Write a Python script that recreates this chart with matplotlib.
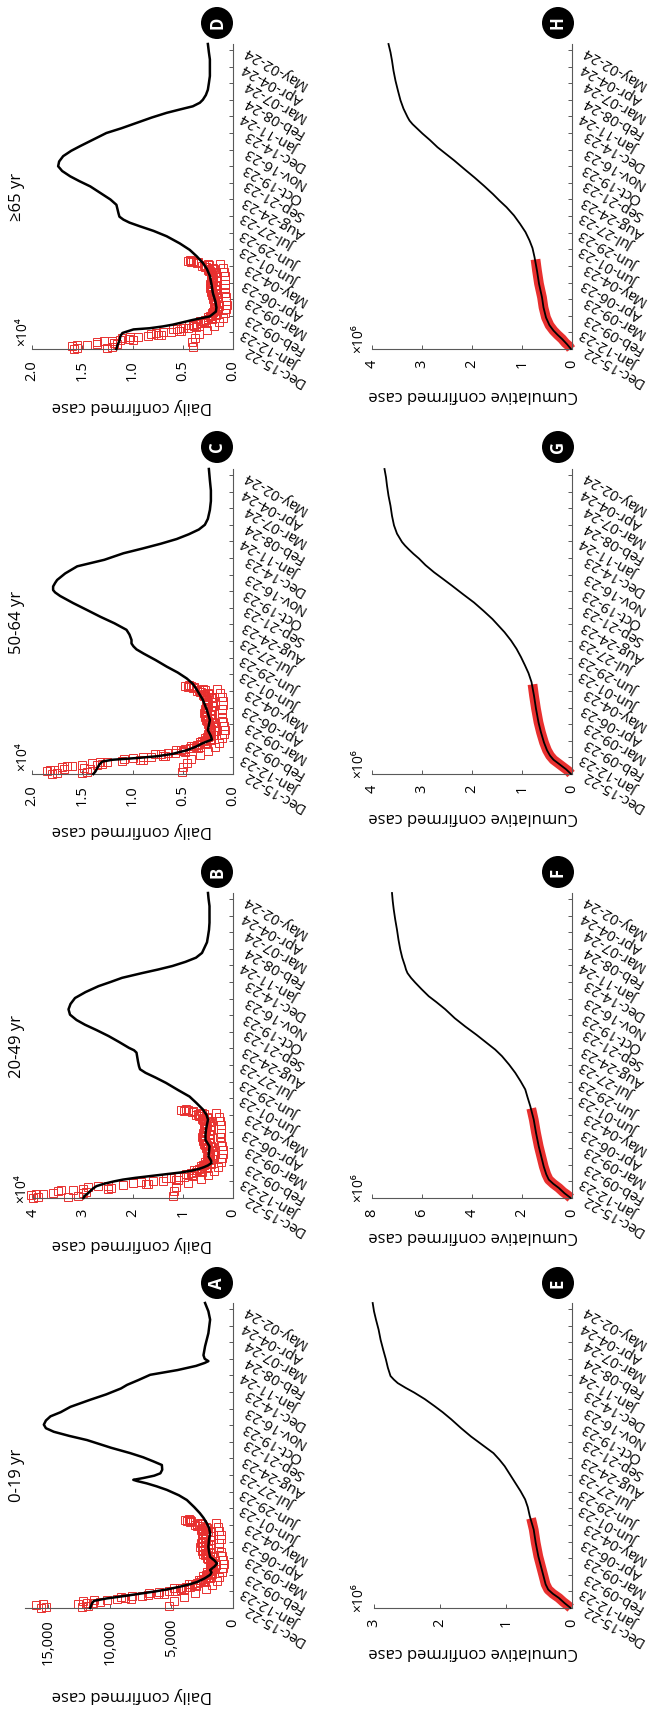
import numpy as np
import pandas as pd
import matplotlib
matplotlib.use('Agg')
import matplotlib.pyplot as plt

plt.rcParams['font.family'] = ['Open Sans', 'DejaVu Sans']

# --- data -------------------------------------------------------------
start = pd.Timestamp('2022-12-15')
date_labels = ['Dec-15-22', 'Jan-12-23', 'Feb-09-23', 'Mar-09-23', 'Apr-06-23',
               'May-04-23', 'Jun-01-23', 'Jun-29-23', 'Jul-27-23', 'Aug-24-23',
               'Sep-21-23', 'Oct-19-23', 'Nov-16-23', 'Dec-14-23', 'Jan-11-24',
               'Feb-08-24', 'Mar-07-24', 'Apr-04-24', 'May-02-24']
date_ticks = [(pd.to_datetime(s, format='%b-%d-%y') - start).days for s in date_labels]
last_day = 514

groups = ['0-19 yr', '20-49 yr', '50-64 yr', '\u226565 yr']

# observed daily cases, one value per day from Dec-15-22
obs_a = [15600, 15200, 12300, 11800, 5200, 16000, 15400,
         12600, 11900, 11400, 10800, 4800, 12200, 11300,
         10200, 9400, 8300, 8800, 4000, 9100, 8200,
         7400, 6900, 5600, 6100, 3100, 6800, 6000,
         5200, 4700, 4000, 4200, 2200, 4800, 4300,
         3800, 3500, 3000, 3100, 1700, 3600, 3300,
         2900, 2700, 2300, 2400, 1300, 2800, 2600,
         2400, 2200, 1900, 2000, 1100, 2400, 2200,
         2100, 2000, 1700, 1700, 900, 2100, 1900,
         1900, 1800, 1500, 1600, 800, 1900, 1800,
         1800, 1700, 1400, 1400, 700, 1700, 1600,
         1900, 1800, 1500, 1500, 800, 2000, 1900,
         2100, 2000, 1700, 1700, 900, 2300, 2100,
         2400, 2200, 1900, 1900, 1000, 2500, 2400,
         2500, 2300, 2000, 2000, 1100, 2700, 2500,
         2500, 2300, 1900, 2000, 1100, 2600, 2500,
         2400, 2200, 1900, 1900, 1000, 2500, 2400,
         2300, 2200, 1800, 1800, 1000, 2500, 2300,
         2400, 2200, 1900, 2000, 1100, 2600, 2500,
         2600, 2500, 2100, 2200, 1200, 2900, 2800,
         3100, 2900, 2500, 2700, 1400, 3500, 3400,
         3700, 3900, 3500, 3600]
obs_b = [40000, 39000, 33000, 31000, 12000, 40500, 39500,
         38000, 36000, 30000, 29500, 11800, 35000, 34500,
         32000, 30000, 25000, 24500, 11500, 29000, 27000,
         25000, 22000, 17500, 17000, 9100, 20000, 18500,
         16000, 14000, 11000, 11500, 6500, 13500, 12500,
         11000, 9800, 8000, 8200, 5000, 9500, 9000,
         8500, 7500, 6200, 6500, 3800, 7800, 7200,
         6800, 6200, 5200, 5400, 3000, 6500, 6000,
         5800, 5400, 4500, 4600, 2500, 5600, 5300,
         5200, 4900, 4100, 4200, 2200, 5200, 5000,
         4900, 4600, 3800, 3900, 2000, 4900, 4700,
         5100, 4800, 4000, 4100, 2100, 5200, 5000,
         5400, 5100, 4300, 4400, 2300, 5600, 5300,
         5800, 5500, 4600, 4700, 2500, 6000, 5800,
         6000, 5700, 4800, 4900, 2600, 6300, 6000,
         5900, 5600, 4700, 4800, 2500, 6100, 5900,
         5700, 5400, 4500, 4600, 2400, 5900, 5700,
         5600, 5300, 4400, 4500, 2400, 5800, 5600,
         5800, 5500, 4600, 4800, 2600, 6100, 5900,
         6300, 6000, 5000, 5200, 2900, 6800, 6600,
         7400, 7000, 5900, 6200, 3400, 8200, 8000,
         9800, 10500, 9000, 9500]
obs_c = [18000, 17500, 15000, 14500, 5100, 18500, 18200,
         17800, 16800, 14200, 14800, 5000, 17000, 16500,
         16000, 15000, 13500, 13000, 4600, 14000, 13200,
         12500, 11000, 9000, 9300, 4200, 10800, 10000,
         9000, 8200, 6800, 7000, 3300, 7800, 7200,
         6500, 5800, 4800, 5000, 2500, 5700, 5200,
         4800, 4300, 3500, 3700, 1800, 4200, 3900,
         3600, 3300, 2700, 2800, 1400, 3300, 3100,
         2900, 2700, 2200, 2300, 1100, 2800, 2600,
         2500, 2400, 1900, 2000, 900, 2500, 2300,
         2300, 2200, 1800, 1800, 800, 2300, 2200,
         2400, 2300, 1800, 1900, 900, 2400, 2300,
         2500, 2400, 1900, 2000, 1000, 2600, 2500,
         2700, 2600, 2100, 2200, 1100, 2800, 2700,
         2800, 2700, 2200, 2300, 1100, 2900, 2800,
         2700, 2600, 2100, 2200, 1100, 2800, 2700,
         2600, 2500, 2000, 2100, 1000, 2700, 2600,
         2600, 2500, 2000, 2100, 1000, 2700, 2600,
         2700, 2600, 2100, 2200, 1100, 2900, 2800,
         3000, 2900, 2400, 2500, 1300, 3300, 3200,
         3600, 3400, 2800, 3000, 1600, 4000, 3900,
         4500, 4800, 4200, 4400]
obs_d = [15800, 15500, 12500, 12000, 4000, 16000, 15500,
         14500, 13500, 11500, 11800, 4100, 13500, 12800,
         12000, 11200, 10000, 10300, 3800, 11000, 10200,
         9500, 8500, 7200, 7500, 3400, 8200, 7700,
         7000, 6200, 5200, 5400, 2600, 6000, 5600,
         5000, 4500, 3700, 3900, 1900, 4400, 4000,
         3700, 3300, 2700, 2900, 1400, 3300, 3000,
         2800, 2500, 2100, 2200, 1000, 2500, 2300,
         2200, 2100, 1700, 1800, 800, 2100, 2000,
         2000, 1900, 1500, 1600, 700, 1900, 1800,
         1900, 1800, 1400, 1500, 600, 1800, 1700,
         1900, 1800, 1500, 1500, 700, 1900, 1800,
         2000, 1900, 1500, 1600, 700, 2000, 1900,
         2100, 2000, 1600, 1700, 800, 2200, 2100,
         2200, 2100, 1700, 1800, 800, 2300, 2200,
         2200, 2100, 1700, 1800, 800, 2300, 2200,
         2100, 2000, 1600, 1700, 800, 2200, 2100,
         2100, 2000, 1600, 1700, 800, 2200, 2100,
         2200, 2100, 1700, 1800, 900, 2400, 2300,
         2500, 2400, 1900, 2000, 1000, 2800, 2700,
         3100, 2900, 2400, 2500, 1300, 3600, 3500,
         4200, 4500, 4000, 4300]

# fitted / projected daily curve (day, value)
fit_a_days = [0, 3, 8, 12, 16, 20, 24, 28, 32, 36, 40, 44, 50, 56, 60, 64, 70, 75, 80, 86,
              95, 103, 115, 126, 135, 143, 152, 160, 170, 182, 190, 199, 205, 210, 214, 216,
              219, 223, 227, 233, 241, 247, 254, 261, 270, 283, 290, 297, 303, 309, 316, 323,
              330, 339, 351, 360, 370, 376, 384, 393, 401, 408, 413, 416, 420, 426, 441, 463,
              486, 500, 514]
fit_a = [11600, 11550, 11450, 11300, 10300, 8900, 7600, 6300, 5200, 4300, 3500, 2900, 2300,
         1850, 1750, 1860, 1500, 1300, 1500, 1860, 1950, 2000, 1950, 1860, 1950, 2130, 2400,
         2700, 3150, 3750, 4400, 5370, 6200, 7000, 7800, 8100, 7300, 6400, 5900, 5750, 5780,
         6460, 7300, 8350, 9900, 11860, 13300, 14560, 15200, 15370, 15200, 14830, 14000, 13210,
         11590, 10300, 9100, 8610, 7700, 6730, 4500, 3000, 2300, 2000, 2300, 2400, 2270, 2000,
         1860, 2000, 2270]
fit_b_days = [0, 4, 8, 12, 16, 20, 24, 28, 31, 34, 37, 40, 43, 46, 49, 52, 55, 59, 63, 70,
              78, 87, 98, 107, 115, 124, 132, 140, 149, 160, 171, 182, 194, 203, 211, 217,
              222, 230, 240, 245, 249, 253, 263, 273, 283, 292, 300, 309, 318, 327, 337, 347,
              357, 364, 371, 379, 385, 391, 398, 405, 413, 422, 431, 441, 452, 464, 478, 492,
              505, 514]
fit_b = [29900, 29600, 29000, 28500, 28000, 27300, 25800, 23800, 22000, 19500, 16500, 13500,
         10500, 8300, 6800, 5800, 5000, 4300, 4400, 4900, 4800, 4700, 5500, 5500, 5400, 5200,
         5000, 5300, 6000, 7300, 8700, 11000, 13400, 15500, 17500, 18600, 18800, 19000, 19200,
         19300, 19800, 20800, 22800, 24900, 27300, 29600, 31300, 32600, 32900, 32500, 31600,
         29500, 26900, 24500, 22200, 18200, 15000, 12100, 9500, 7400, 6200, 5700, 5200, 5000,
         4800, 4700, 4700, 4700, 4900, 5000]
fit_c_days = [0, 4, 10, 16, 21, 24, 27, 30, 34, 40, 46, 52, 58, 64, 74, 91, 108, 125, 142,
              152, 161, 171, 181, 192, 203, 210, 215, 220, 226, 235, 243, 254, 265, 277, 288,
              300, 306, 310, 316, 322, 327, 338, 350, 361, 372, 380, 388, 396, 404, 412, 420,
              430, 445, 460, 478, 495, 514]
fit_c = [13900, 13700, 13500, 13300, 13000, 12000, 9500, 7500, 6000, 4600, 3700, 3000, 2100,
         2200, 2500, 2300, 2600, 3000, 3600, 4000, 4600, 5500, 6600, 7700, 8900, 9600, 9900,
         10100, 10100, 10300, 10600, 11800, 13200, 14600, 15900, 17200, 17700, 17900, 17900,
         17700, 17500, 16700, 15500, 12800, 10900, 9000, 7200, 5600, 4400, 3400, 2800, 2500,
         2300, 2200, 2200, 2300, 2400]
fit_d_days = [0, 6, 14, 22, 27, 33, 35, 38, 41, 45, 49, 55, 63, 70, 80, 94, 110, 123, 135,
              145, 156, 167, 178, 190, 199, 207, 213, 218, 223, 229, 236, 243, 252, 263, 274,
              283, 291, 300, 308, 316, 325, 334, 342, 353, 364, 372, 381, 390, 398, 404, 409,
              415, 420, 428, 437, 448, 460, 474, 488, 500, 514]
fit_d = [11600, 11500, 11300, 11200, 11000, 9900, 8300, 7000, 6000, 5000, 4000, 2300, 1700,
         1650, 1750, 2000, 2150, 2300, 2600, 3000, 3600, 4300, 5300, 6600, 7900, 9300, 10300,
         10900, 11300, 11400, 11500, 11600, 12200, 13200, 14200, 15300, 16200, 17000, 17400,
         17300, 16900, 16100, 15200, 13900, 12600, 11100, 9600, 8100, 6600, 5200, 4000, 3300,
         3000, 2700, 2500, 2400, 2300, 2300, 2300, 2400, 2500]

# cumulative cases in millions (model) and cumulative observed band
cum_days = [0, 8, 17, 24, 31, 40, 53, 70, 87, 110, 132, 155, 170, 183, 197, 211, 225, 239,
            250, 261, 275, 289, 303, 318, 330, 340, 352, 363, 371, 379, 385, 391, 405, 419,
            435, 452, 469, 486, 500, 514]
cum_e = [0.02, 0.11, 0.20, 0.29, 0.36, 0.40, 0.43, 0.47, 0.51, 0.55, 0.58, 0.64, 0.67, 0.71,
         0.78, 0.86, 0.94, 1.02, 1.10, 1.19, 1.36, 1.53, 1.68, 1.83, 1.96, 2.08, 2.23, 2.39,
         2.52, 2.64, 2.70, 2.75, 2.79, 2.82, 2.86, 2.90, 2.93, 2.97, 3.00, 3.02]
cum_f = [0.05, 0.30, 0.53, 0.75, 0.93, 1.03, 1.13, 1.23, 1.33, 1.44, 1.53, 1.67, 1.78, 1.87,
         2.06, 2.27, 2.52, 2.80, 3.07, 3.40, 3.82, 4.27, 4.69, 5.07, 5.42, 5.73, 6.02, 6.27,
         6.44, 6.58, 6.64, 6.68, 6.79, 6.87, 6.94, 7.00, 7.07, 7.13, 7.17, 7.20]
cum_g = [0.02, 0.12, 0.26, 0.37, 0.44, 0.50, 0.56, 0.62, 0.67, 0.72, 0.76, 0.81, 0.87, 0.94,
         1.02, 1.11, 1.22, 1.35, 1.47, 1.59, 1.77, 1.96, 2.18, 2.41, 2.60, 2.76, 2.93, 3.06,
         3.17, 3.27, 3.34, 3.40, 3.50, 3.56, 3.60, 3.63, 3.67, 3.70, 3.72, 3.75]
cum_h = [0.02, 0.10, 0.20, 0.29, 0.37, 0.45, 0.52, 0.57, 0.60, 0.66, 0.70, 0.75, 0.79, 0.85,
         0.93, 1.04, 1.16, 1.31, 1.45, 1.58, 1.76, 1.95, 2.15, 2.36, 2.54, 2.69, 2.84, 2.99,
         3.09, 3.19, 3.25, 3.29, 3.37, 3.43, 3.48, 3.53, 3.57, 3.60, 3.63, 3.67]
band_days = [0, 5, 10, 17, 24, 31, 40, 53, 70, 87, 110, 132, 151]
band_e = [0.02, 0.07, 0.13, 0.20, 0.29, 0.36, 0.40, 0.43, 0.47, 0.51, 0.55, 0.58, 0.62]
band_f = [0.05, 0.18, 0.35, 0.53, 0.75, 0.93, 1.03, 1.13, 1.23, 1.33, 1.44, 1.53, 1.63]
band_g = [0.02, 0.07, 0.15, 0.26, 0.37, 0.44, 0.50, 0.56, 0.62, 0.67, 0.72, 0.76, 0.79]
band_h = [0.02, 0.06, 0.13, 0.20, 0.29, 0.37, 0.45, 0.52, 0.57, 0.60, 0.66, 0.70, 0.73]

daily_ticks = [[0, 5000, 10000, 15000], [0, 10000, 20000, 30000, 40000],
               [0, 5000, 10000, 15000, 20000], [0, 5000, 10000, 15000, 20000]]
daily_ticklabels = [['0', '5,000', '10,000', '15,000'], ['0', '1', '2', '3', '4'],
                    ['0.0', '0.5', '1.0', '1.5', '2.0'], ['0.0', '0.5', '1.0', '1.5', '2.0']]
daily_max = [16900, 40000, 20000, 20000]
cum_ticks = [[0, 1, 2, 3], [0, 2, 4, 6, 8], [0, 1, 2, 3, 4], [0, 1, 2, 3, 4]]
cum_max = [3, 8, 4, 4]

# --- layout (pixels of the 650 x 1709 canvas) -----------------------------
W, H = 650, 1709
bottoms = [1608, 1198, 774, 349]
left_ends = [25, 33, 32, 32]
right_ends = [374, 372, 372, 372]
axis_h = 305
red = '#e8302f'
grey = '#595959'

fig = plt.figure(figsize=(W / 100, H / 100), dpi=100)


def px_box(x0, x1, ybot):
    return [x0 / W, 1 - ybot / H, (x1 - x0) / W, axis_h / H]


def style_axes(ax, vmax, ticks, ticklabels):
    ax.set_xlim(vmax, 0)
    ax.set_ylim(0, last_day)
    for s in ['top', 'left']:
        ax.spines[s].set_visible(False)
    for s in ['right', 'bottom']:
        ax.spines[s].set_color(grey)
        ax.spines[s].set_linewidth(0.8)
    ax.set_xticks(ticks)
    ax.set_xticklabels(ticklabels, rotation=90)
    ax.set_yticks(date_ticks)
    ax.set_yticklabels(date_labels)
    ax.yaxis.tick_right()
    ax.tick_params(axis='x', direction='in', length=3, width=0.7, color=grey,
                   labelsize=10.5, pad=8)
    ax.tick_params(axis='y', direction='in', length=3, width=0.7, color=grey,
                   labelsize=10.5, pad=8)
    for lab in ax.get_yticklabels():
        lab.set_rotation(150)
        lab.set_rotation_mode('anchor')
        lab.set_ha('right')
        lab.set_va('center')
    ax.patch.set_alpha(0)


def ftext(x, y, s, **kw):
    fig.text(x / W, 1 - y / H, s, **kw)


obs_all = [obs_a, obs_b, obs_c, obs_d]
fit_days_all = [fit_a_days, fit_b_days, fit_c_days, fit_d_days]
fit_all = [fit_a, fit_b, fit_c, fit_d]
cum_all = [cum_e, cum_f, cum_g, cum_h]
band_all = [band_e, band_f, band_g, band_h]
obs_days = np.arange(len(obs_a))

title_y = [1475, 1047, 622, 197]
ylab_daily_y = [1695, 1244, 830, 406]
ylab_cum_y = [1652, 1236, 817, 395]
letter_y = [1283, 872, 447, 23]
exp_daily = [None, (22, 1203), (23, 771), (23, 346)]
exp_cum = [(359, 1612), (359, 1202), (359, 778), (359, 353)]
circle = dict(boxstyle='circle,pad=0.42', fc='black', ec='none')

for i in range(4):
    # daily panel: value on the horizontal axis, date on the vertical axis
    ax = fig.add_axes(px_box(left_ends[i], 233, bottoms[i]))
    ax.plot(fit_all[i], fit_days_all[i], color='black', lw=1.8, zorder=3, clip_on=False)
    ax.plot(obs_all[i], obs_days, 's', mfc='none', mec=red, ms=5.5, mew=0.7,
            zorder=2, clip_on=False)
    style_axes(ax, daily_max[i], daily_ticks[i], daily_ticklabels[i])
    ftext(17, title_y[i], groups[i], rotation=90, ha='center', va='center', fontsize=12)
    ftext(132, ylab_daily_y[i], 'Daily confirmed case', rotation=180,
          ha='center', va='center', fontsize=12)
    ftext(217, letter_y[i], 'ABCD'[i], rotation=90, ha='center', va='center',
          color='white', fontsize=12, fontweight='bold', bbox=circle)
    if exp_daily[i] is not None:
        ftext(exp_daily[i][0], exp_daily[i][1], '\u00d710\u2074', rotation=90,
              rotation_mode='anchor', ha='left', va='center', fontsize=10)

    # cumulative panel
    ax = fig.add_axes(px_box(right_ends[i], 572, bottoms[i]))
    ax.plot(band_all[i], band_days, color=red, lw=7, solid_capstyle='butt', zorder=2,
            clip_on=False)
    ax.plot(cum_all[i], cum_days, color='black', lw=1.3, zorder=3, clip_on=False)
    style_axes(ax, cum_max[i], cum_ticks[i], [str(t) for t in cum_ticks[i]])
    ftext(473, ylab_cum_y[i], 'Cumulative confirmed case', rotation=180,
          ha='center', va='center', fontsize=12)
    ftext(558, letter_y[i], 'EFGH'[i], rotation=90, ha='center', va='center',
          color='white', fontsize=12, fontweight='bold', bbox=circle)
    ftext(exp_cum[i][0], exp_cum[i][1], '\u00d710\u2076', rotation=90,
          rotation_mode='anchor', ha='left', va='center', fontsize=10)

fig.savefig('out.png', dpi=100)
